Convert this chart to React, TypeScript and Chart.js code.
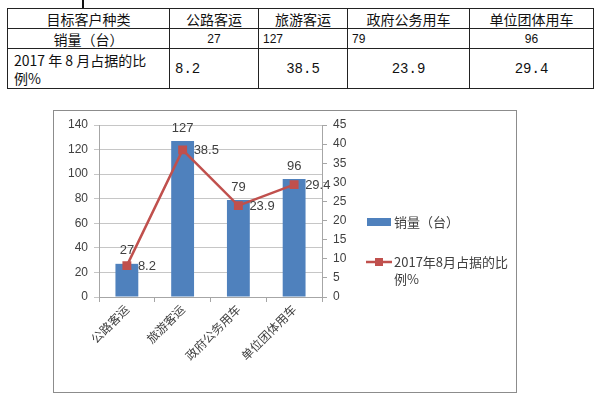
import React, { useEffect, useRef } from "react";
import { Chart, registerables } from "chart.js";

Chart.register(...registerables);

const categories = ["公路客运", "旅游客运", "政府公务用车", "单位团体用车"];
const salesValues = [27, 127, 79, 96];
const shareValues = [8.2, 38.5, 23.9, 29.4];
const salesLabel = "销量（台）";
const shareLabel = "2017年8月占据的比例%";
const shareLegendLines = ["2017年8月占据的比", "例%"];
const tableHeader = ["目标客户种类", "公路客运", "旅游客运", "政府公务用车", "单位团体用车"];
const tableSalesRow = ["销量（台）", "27", "127", "79", "96"];
const tableShareRow = ["8.2", "38.5", "23.9", "29.4"];

const BAR_COLOR = "#4F81BD";
const LINE_COLOR = "#C0504D";
const TEXT_COLOR = "#404040";
const AXIS_FONT = "'Liberation Sans', Arial, sans-serif";
const CJK_FONT = "'Noto Sans CJK SC', sans-serif";

const labelsPlugin = {
  id: "valueLabels",
  afterDatasetsDraw(chart: any) {
    const ctx = chart.ctx;
    ctx.save();
    ctx.fillStyle = TEXT_COLOR;
    ctx.font = `13px ${AXIS_FONT}`;
    const barMeta = chart.getDatasetMeta(0);
    barMeta.data.forEach((el: any, i: number) => {
      ctx.textAlign = "center";
      ctx.textBaseline = "middle";
      ctx.fillText(String(chart.data.datasets[0].data[i]), el.x, el.y - 13);
    });
    const lineMeta = chart.getDatasetMeta(1);
    lineMeta.data.forEach((el: any, i: number) => {
      ctx.textAlign = "left";
      ctx.textBaseline = "middle";
      ctx.fillText(String(chart.data.datasets[1].data[i]), el.x + 11, el.y + 1);
    });
    ctx.restore();
  },
  afterDraw(chart: any) {
    const ctx = chart.ctx;
    const x0 = chart.scales.y2.right;
    const mid = (chart.chartArea.top + chart.chartArea.bottom) / 2;
    ctx.save();
    // bar legend item
    const y1 = mid + 11;
    ctx.fillStyle = BAR_COLOR;
    ctx.fillRect(x0, y1 - 4, 24, 8);
    ctx.fillStyle = TEXT_COLOR;
    ctx.font = `13px ${CJK_FONT}`;
    ctx.textAlign = "left";
    ctx.textBaseline = "middle";
    ctx.fillText(chart.data.datasets[0].label, x0 + 27, y1);
    // line legend item
    const y2 = mid + 51;
    ctx.strokeStyle = LINE_COLOR;
    ctx.lineWidth = 2.5;
    ctx.beginPath();
    ctx.moveTo(x0 - 1, y2);
    ctx.lineTo(x0 + 25, y2);
    ctx.stroke();
    ctx.fillStyle = LINE_COLOR;
    ctx.fillRect(x0 + 8, y2 - 4, 8, 8);
    ctx.fillStyle = TEXT_COLOR;
    shareLegendLines.forEach((t, i) => {
      ctx.fillText(t, x0 + 27, y2 + i * 17);
    });
    ctx.restore();
  },
};

function ChartBox() {
  const ref = useRef<HTMLCanvasElement>(null);
  useEffect(() => {
    if (!ref.current) return;
    const chart = new Chart(ref.current, {
      type: "bar",
      data: {
        labels: categories,
        datasets: [
          {
            type: "bar",
            label: salesLabel,
            data: salesValues,
            backgroundColor: BAR_COLOR,
            borderColor: "#5B8CC6",
            borderWidth: 0,
            yAxisID: "y",
            categoryPercentage: 1,
            barPercentage: 0.41,
            order: 2,
          },
          {
            type: "line",
            label: shareLabel,
            data: shareValues,
            borderColor: LINE_COLOR,
            backgroundColor: LINE_COLOR,
            borderWidth: 2.5,
            pointStyle: "rect",
            pointRadius: 6.3,
            pointBorderWidth: 0,
            yAxisID: "y2",
            order: 1,
          },
        ] as any,
      },
      options: {
        animation: false,
        responsive: false,
        maintainAspectRatio: false,
        layout: { padding: { left: 0, right: 149, top: 14, bottom: 0 } },
        plugins: { legend: { display: false }, tooltip: { enabled: false } },
        scales: {
          x: {
            offset: true,
            grid: {
              offset: true,
              drawOnChartArea: false,
              drawTicks: true,
              tickLength: 5,
              color: "#a6a6a6",
            },
            border: { color: "#a6a6a6" },
            ticks: {
              minRotation: 45,
              maxRotation: 45,
              color: TEXT_COLOR,
              font: { family: "'Noto Sans CJK SC', sans-serif", size: 12 },
              padding: 0,
            },
            afterFit: (s: any) => {
              s.height = 95;
            },
          },
          y: {
            position: "left",
            min: 0,
            max: 140,
            ticks: {
              stepSize: 20,
              color: TEXT_COLOR,
              font: { family: AXIS_FONT, size: 12 },
              padding: 6,
            },
            grid: { color: "#c6c6c6", tickLength: 5, drawTicks: true },
            border: { color: "#a6a6a6" },
            afterFit: (s: any) => {
              s.width = 45;
            },
          },
          y2: {
            position: "right",
            min: 0,
            max: 45,
            ticks: {
              stepSize: 5,
              color: TEXT_COLOR,
              font: { family: AXIS_FONT, size: 12 },
              padding: 6,
            },
            grid: { drawOnChartArea: false, tickLength: 5, color: "#a6a6a6" },
            border: { color: "#a6a6a6" },
            afterFit: (s: any) => {
              s.width = 45;
            },
          },
        },
      } as any,
      plugins: [labelsPlugin],
    });
    return () => chart.destroy();
  }, []);
  return <canvas ref={ref} width={462} height={281} style={{ display: "block" }} />;
}

const cellBase: React.CSSProperties = {
  border: "1px solid #222",
  padding: 0,
  color: "#111",
  overflow: "hidden",
  whiteSpace: "nowrap",
};

export default function App() {
  const colW = [162, 89, 89, 122, 124];
  const serifNum = "'Liberation Mono', 'DejaVu Sans Mono', monospace";
  return (
    <div style={{ position: "fixed", left: 0, top: 0, width: 600, height: 397, background: "#fff", overflow: "hidden" }}>
      <div style={{ position: "absolute", left: 82, top: 0, width: 1.5, height: 9, background: "#111" }} />
      <table
        style={{
          position: "absolute",
          left: 7,
          top: 8,
          borderCollapse: "collapse",
          tableLayout: "fixed",
          width: 586,
          fontFamily: CJK_FONT,
        }}
      >
        <colgroup>
          {colW.map((w, i) => (
            <col key={i} style={{ width: w }} />
          ))}
        </colgroup>
        <tbody>
          <tr style={{ height: 20 }}>
            {tableHeader.map((t, i) => (
              <td key={i} style={{ ...cellBase, textAlign: "center", fontSize: 14, lineHeight: "18px" }}>
                {t}
              </td>
            ))}
          </tr>
          <tr style={{ height: 20 }}>
            <td style={{ ...cellBase, textAlign: "center", fontSize: 14, lineHeight: "18px" }}>{tableSalesRow[0]}</td>
            <td style={{ ...cellBase, textAlign: "center", fontSize: 12, fontFamily: AXIS_FONT }}>{tableSalesRow[1]}</td>
            <td style={{ ...cellBase, textAlign: "left", paddingLeft: 4, fontSize: 12, fontFamily: AXIS_FONT }}>{tableSalesRow[2]}</td>
            <td style={{ ...cellBase, textAlign: "left", paddingLeft: 4, fontSize: 12, fontFamily: AXIS_FONT }}>{tableSalesRow[3]}</td>
            <td style={{ ...cellBase, textAlign: "center", fontSize: 12, fontFamily: AXIS_FONT }}>{tableSalesRow[4]}</td>
          </tr>
          <tr style={{ height: 40 }}>
            <td style={{ ...cellBase, textAlign: "left", paddingLeft: 6, fontSize: 14, lineHeight: "18px", whiteSpace: "normal" }}>
              2017 年 8 月占据的比
              <br />
              例%
            </td>
            <td style={{ ...cellBase, textAlign: "left", paddingLeft: 5, fontSize: 14, fontFamily: serifNum }}>{tableShareRow[0]}</td>
            <td style={{ ...cellBase, textAlign: "center", fontSize: 14, fontFamily: serifNum }}>{tableShareRow[1]}</td>
            <td style={{ ...cellBase, textAlign: "center", fontSize: 14, fontFamily: serifNum }}>{tableShareRow[2]}</td>
            <td style={{ ...cellBase, textAlign: "center", fontSize: 14, fontFamily: serifNum }}>{tableShareRow[3]}</td>
          </tr>
        </tbody>
      </table>
      <div
        style={{
          position: "absolute",
          left: 53,
          top: 110,
          width: 464,
          height: 283,
          border: "1px solid #8c8c8c",
          boxSizing: "border-box",
        }}
      >
        <ChartBox />
      </div>
    </div>
  );
}
